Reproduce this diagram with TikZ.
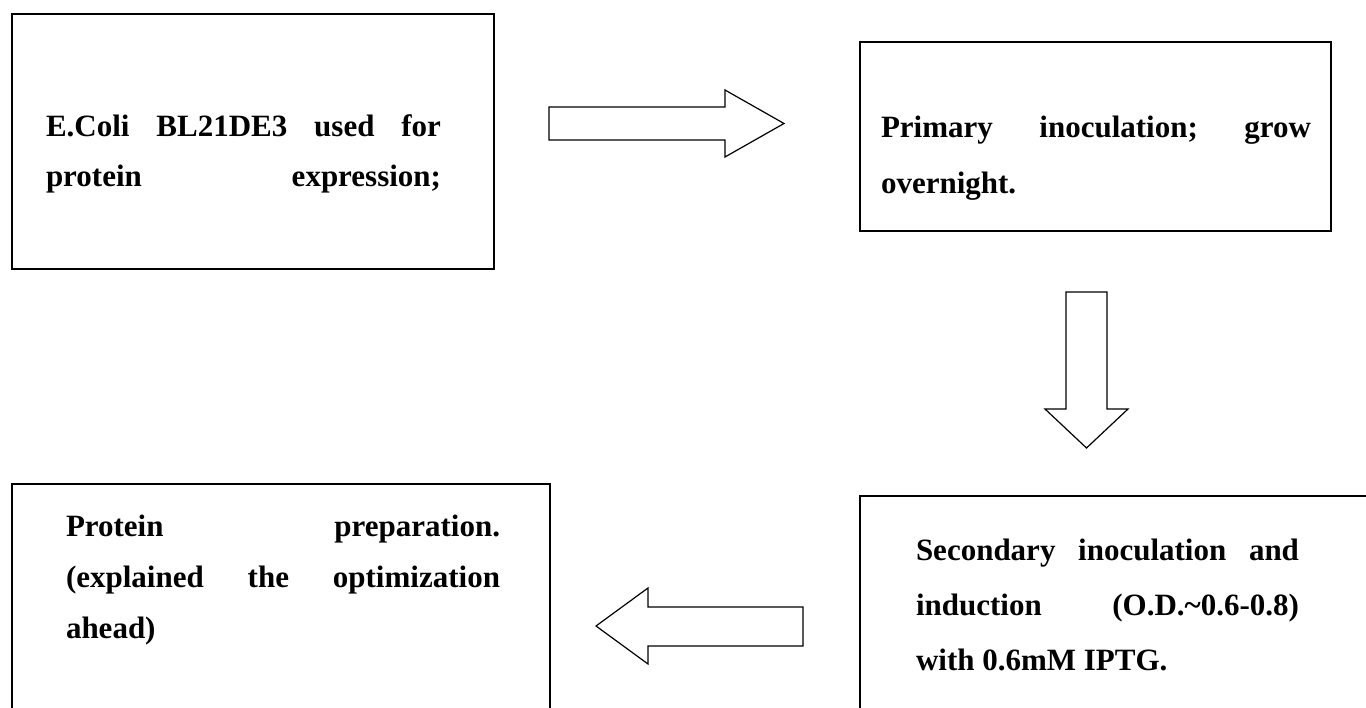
\documentclass[tikz,border=0pt]{standalone}
\usepackage{fontspec}
\setmainfont{Liberation Serif}
\tikzset{
  boxline/.style={draw=black, line width=1.8pt},
  blockarrow/.style={draw=black, line width=1.2pt, fill=white, line join=miter},
  txt/.style={anchor=base west, inner sep=0pt, outer sep=0pt, font=\fontsize{31}{37}\selectfont\bfseries}
}
\begin{document}
\begin{tikzpicture}[x=1pt,y=-1pt]
\clip (0,0) rectangle (1366,708);
\fill[white] (0,0) rectangle (1366,708);

% boxes
\draw[boxline] (12,14) rectangle (494,269);
\draw[boxline] (860,42) rectangle (1331,231);
\draw[boxline] (12,484) rectangle (550,730);
\draw[boxline] (860,496) rectangle (1390,730);

% box 1 text
\node[txt] (t11) at (46,137) {\makebox[395pt][l]{E.Coli\hfill BL21DE3\hfill used\hfill for}};
\node[txt] (t12) at (46,187) {\makebox[395pt][l]{protein\hfill expression;}};

% box 2 text
\node[txt] (t21) at (881,138) {\makebox[430pt][l]{Primary\hfill inoculation;\hfill grow}};
\node[txt] (t22) at (881,194) {overnight.};

% box 3 text
\node[txt] (t31) at (66,536) {\makebox[434pt][l]{Protein\hfill preparation.}};
\node[txt] (t32) at (66,587) {\makebox[434pt][l]{(explained\hfill the\hfill optimization}};
\node[txt] (t33) at (66,638) {ahead)};

% box 4 text
\node[txt] (t41) at (916,560) {\makebox[383pt][l]{Secondary\hfill inoculation\hfill and}};
\node[txt] (t42) at (916,615) {\makebox[383pt][l]{induction\hfill (O.D.\textasciitilde0.6-0.8)}};
\node[txt] (t43) at (916,670) {with 0.6mM IPTG.};

% block arrows
\draw[blockarrow] (549,107) -- (725,107) -- (725,90) -- (784,123.5) -- (725,157) -- (725,140) -- (549,140) -- cycle;
\draw[blockarrow] (1066,292) -- (1107,292) -- (1107,409) -- (1128,409) -- (1086.5,448) -- (1045,409) -- (1066,409) -- cycle;
\draw[blockarrow] (803,607) -- (648,607) -- (648,588) -- (596,626) -- (648,664) -- (648,646) -- (803,646) -- cycle;
\end{tikzpicture}
\end{document}
